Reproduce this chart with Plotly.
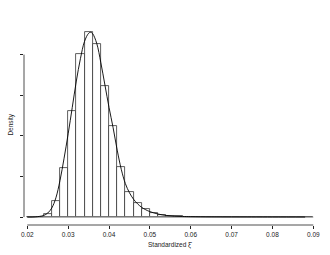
import plotly.graph_objects as go

# Histogram (density scale), bin width 0.002
bin_left = [0.020, 0.022, 0.024, 0.026, 0.028, 0.030, 0.032, 0.034, 0.036, 0.038,
            0.040, 0.042, 0.044, 0.046, 0.048, 0.050, 0.052, 0.054, 0.056, 0.058,
            0.060, 0.062, 0.064, 0.066, 0.068, 0.070, 0.072, 0.074, 0.076, 0.078,
            0.080, 0.082, 0.084, 0.086, 0.088]
bin_density = [0.0, 0.2, 1.6, 8.0, 24.2, 52.3, 80.5, 91.0, 85.2, 64.5,
               44.8, 24.5, 12.2, 7.0, 4.0, 2.0, 1.0, 0.6, 0.35, 0.25,
               0.15, 0.12, 0.1, 0.08, 0.07, 0.06, 0.05, 0.05, 0.04, 0.04,
               0.03, 0.03, 0.03, 0.02, 0.02]
bin_width = 0.002

# Smoothed density curve
curve_x = [0.0200, 0.0220, 0.0240, 0.0250, 0.0260, 0.0270, 0.0280, 0.0290, 0.0300,
           0.0310, 0.0320, 0.0330, 0.0340, 0.0350, 0.0355, 0.0360, 0.0370, 0.0380,
           0.0390, 0.0400, 0.0410, 0.0420, 0.0430, 0.0440, 0.0450, 0.0460, 0.0470,
           0.0480, 0.0490, 0.0500, 0.0520, 0.0540, 0.0560, 0.0580, 0.0600, 0.0650,
           0.0700, 0.0800, 0.0880]
curve_y = [0.0, 0.1, 0.8, 2.0, 4.5, 9.5, 18.0, 29.0, 41.0,
           54.0, 67.0, 78.0, 86.5, 90.5, 91.0, 90.3, 85.5, 76.0,
           65.0, 54.0, 44.0, 33.0, 23.5, 16.5, 12.0, 8.8, 6.5,
           4.8, 3.6, 2.7, 1.5, 0.8, 0.45, 0.3, 0.2, 0.1,
           0.07, 0.04, 0.02]

x_ticks = [0.02, 0.03, 0.04, 0.05, 0.06, 0.07, 0.08, 0.09]
x_tick_labels = ["0.02", "0.03", "0.04", "0.05", "0.06", "0.07", "0.08", "0.09"]
y_ticks = [0, 20, 40, 60, 80]

x_label = "Standardized ξ\u0302"
y_label = "Density"

FONT = "Liberation Sans, Arial, sans-serif"
INK = "#222222"

bin_centers = [b + bin_width / 2 for b in bin_left]
edges = bin_left + [bin_left[-1] + bin_width]

fig = go.Figure()
# baseline of the histogram (zero-height bins)
fig.add_trace(go.Scatter(x=[edges[0], edges[-1]], y=[0, 0], mode="lines",
                         line=dict(color="#888888", width=1), hoverinfo="skip"))
fig.add_trace(go.Bar(x=bin_centers, y=bin_density, width=bin_width,
                     marker=dict(color="white", line=dict(color="#333333", width=0.8))))
fig.add_trace(go.Scatter(x=curve_x, y=curve_y, mode="lines", line_shape="spline",
                         line=dict(color="black", width=0.9)))

fig.update_layout(
    width=330, height=255,
    margin=dict(l=24, r=10, t=24.5, b=30),
    paper_bgcolor="white", plot_bgcolor="white",
    showlegend=False, bargap=0,
    font=dict(family=FONT, size=6.5, color=INK),
    xaxis=dict(range=[0.01919, 0.09164], showgrid=False, zeroline=False, showline=False,
               tickvals=x_ticks, ticktext=x_tick_labels, ticks="outside", ticklen=3,
               tickwidth=0.8, tickcolor=INK, tickfont=dict(size=6.5, family=FONT, color=INK)),
    yaxis=dict(range=[-3.9, 94.6], showgrid=False, zeroline=False, showline=False,
               tickvals=y_ticks, ticks="outside", ticklen=3, tickwidth=0.8,
               tickcolor=INK, showticklabels=False),
    shapes=[
        dict(type="line", xref="x", yref="paper", x0=x_ticks[0], x1=x_ticks[-1], y0=0, y1=0,
             line=dict(color=INK, width=0.8)),
        dict(type="line", xref="paper", yref="y", x0=0, x1=0, y0=y_ticks[0], y1=y_ticks[-1],
             line=dict(color=INK, width=0.8)),
    ],
    annotations=[
        dict(text=x_label, xref="x", yref="paper", x=0.055, y=-0.07, yanchor="top",
             showarrow=False, font=dict(size=6.5, family=FONT, color=INK)),
        dict(text=y_label, xref="paper", yref="paper", x=-0.025, y=0.5, xanchor="right",
             textangle=-90, showarrow=False, font=dict(size=6.5, family=FONT, color=INK)),
    ],
)

fig.write_html("out.html", config={"displayModeBar": False},
               post_script="document.body.style.margin='0px';")
